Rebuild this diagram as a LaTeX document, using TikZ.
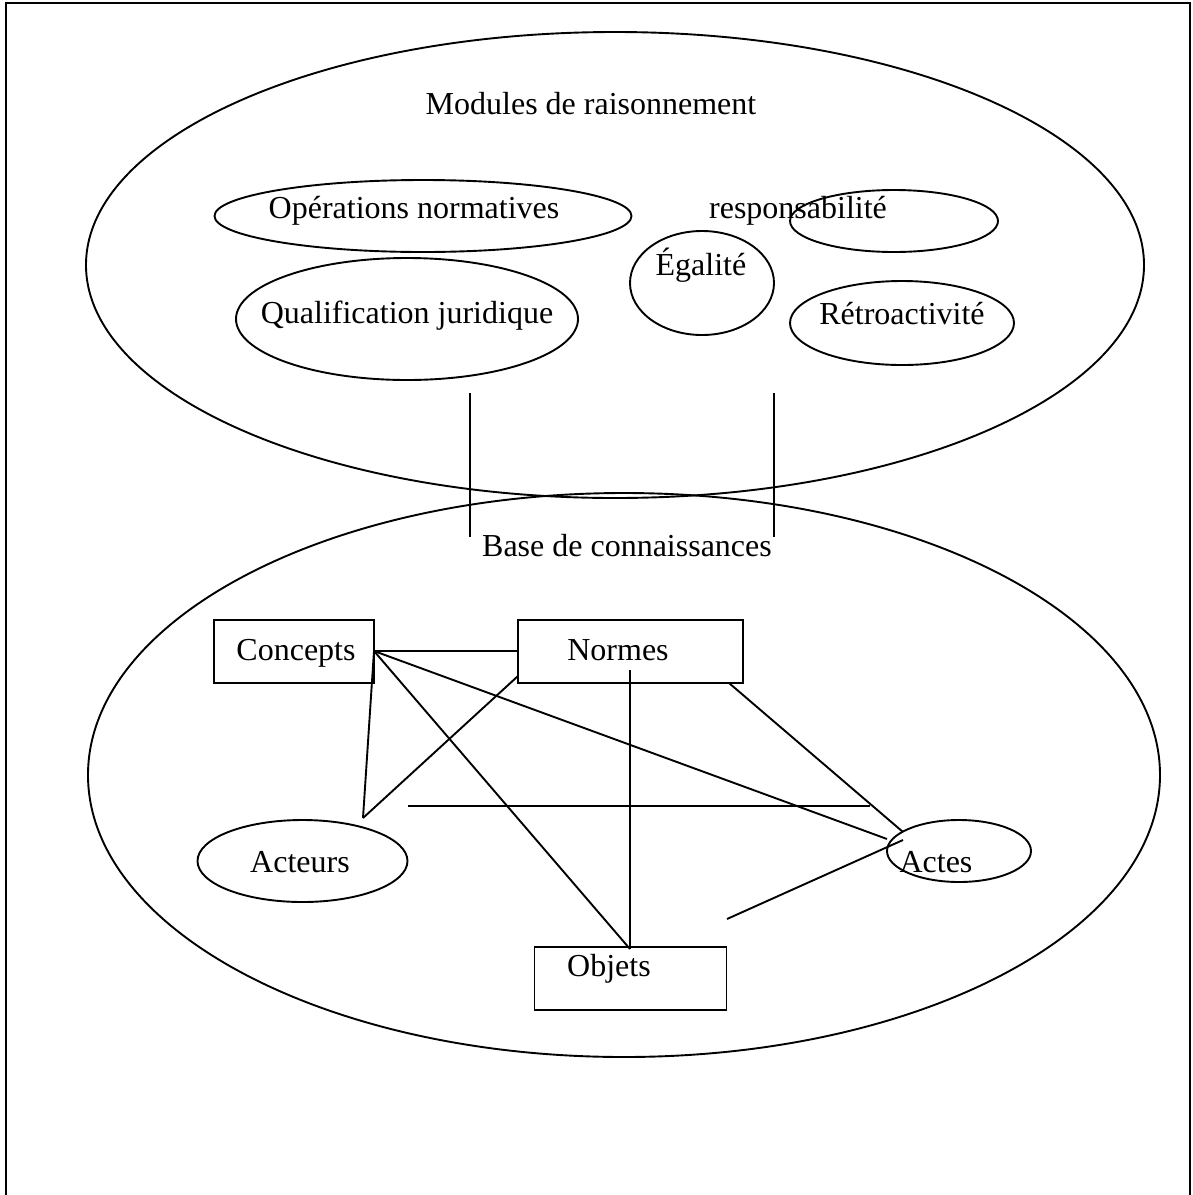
\documentclass[tikz,border=0pt]{standalone}
\usepackage{fontspec}
\setmainfont{Liberation Serif}
\usetikzlibrary{shapes.geometric}
\tikzset{
  frameline/.style={line width=2.4pt, black},
  conn/.style={line width=1.9pt, black},
  ell/.style={ellipse, draw, line width=1.9pt, inner sep=0pt, minimum width=#1},
  box/.style={rectangle, draw, line width=1.9pt, inner sep=0pt},
  lbl/.style={anchor=base, inner sep=0pt, font=\fontsize{32}{38}\selectfont},
}
\begin{document}
\begin{tikzpicture}[x=1pt,y=-1pt]
\useasboundingbox (0,0) rectangle (1193,1195);
% frame
\coordinate (fbl) at (6,1195);
\coordinate (ftl) at (6,3);
\coordinate (ftr) at (1190,3);
\coordinate (fbr) at (1190,1195);
\draw[frameline] (fbl) -- (ftl) -- (ftr) -- (fbr);

% big ellipses
\node[ell=1058pt, minimum height=466pt] (upper) at (615,265) {};
\node[ell=1072pt, minimum height=564pt] (lower) at (624,775) {};

% upper small ellipses
\node[ell=417pt, minimum height=72pt] (opE) at (423,216) {};
\node[ell=208pt, minimum height=62pt] (respE) at (894,221) {};
\node[ell=144pt, minimum height=104pt] (egE) at (702,283) {};
\node[ell=342pt, minimum height=122pt] (qualE) at (407,319) {};
\node[ell=224pt, minimum height=84pt] (retroE) at (902,323) {};

% labels upper
\node[lbl] (modules) at (591,114) {Modules de raisonnement};
\node[lbl] (op) at (414,218) {Opérations normatives};
\node[lbl] (resp) at (798,218) {responsabilité};
\node[lbl] (eg) at (701,275) {Égalité};
\node[lbl] (qual) at (407,323) {Qualification juridique};
\node[lbl] (retro) at (902,324) {Rétroactivité};

% vertical bars
\coordinate (vl1) at (470,393);
\coordinate (vl2) at (470,537);
\coordinate (vr1) at (774,393);
\coordinate (vr2) at (774,537);
\draw[conn] (vl1) -- (vl2);
\draw[conn] (vr1) -- (vr2);

\node[lbl] (base) at (627,556) {Base de connaissances};

% lower nodes
\node[box, minimum width=160pt, minimum height=63pt] (concB) at (294,651.5) {};
\node[box, minimum width=225pt, minimum height=63pt] (normB) at (630.5,651.5) {};
\node[box, minimum width=192pt, minimum height=63pt] (objB) at (630.5,978.5) {};
\node[ell=210pt, minimum height=82pt] (actE) at (302.5,861) {};
\node[ell=144pt, minimum height=62pt] (actesE) at (959,851) {};

\node[lbl] (conc) at (296,660) {Concepts};
\node[lbl] (norm) at (618,660) {Normes};
\node[lbl] (acteurs) at (300,872) {Acteurs};
\node[lbl] (actes) at (936,872) {Actes};
\node[lbl] (obj) at (609,976) {Objets};

% connector points
\coordinate (cR) at (374,651);
\coordinate (nL) at (518,651);
\coordinate (nLlow) at (518,676);
\coordinate (acTop) at (363,818);
\coordinate (nV) at (630,670);
\coordinate (oTop) at (630,949);
\coordinate (nBR) at (729,683);
\coordinate (aTop) at (903,832);
\coordinate (aL) at (887,839);
\coordinate (aL2) at (903,840);
\coordinate (oTR) at (727,919);
\coordinate (h1) at (408,806);
\coordinate (h2) at (870,806);

\draw[conn] (cR) -- (nL);
\draw[conn] (cR) -- (aL);
\draw[conn] (cR) -- (oTop);
\draw[conn] (cR) -- (acTop);
\draw[conn] (nLlow) -- (acTop);
\draw[conn] (nV) -- (oTop);
\draw[conn] (nBR) -- (aTop);
\draw[conn] (aL2) -- (oTR);
\draw[conn] (h1) -- (h2);
\end{tikzpicture}
\end{document}
